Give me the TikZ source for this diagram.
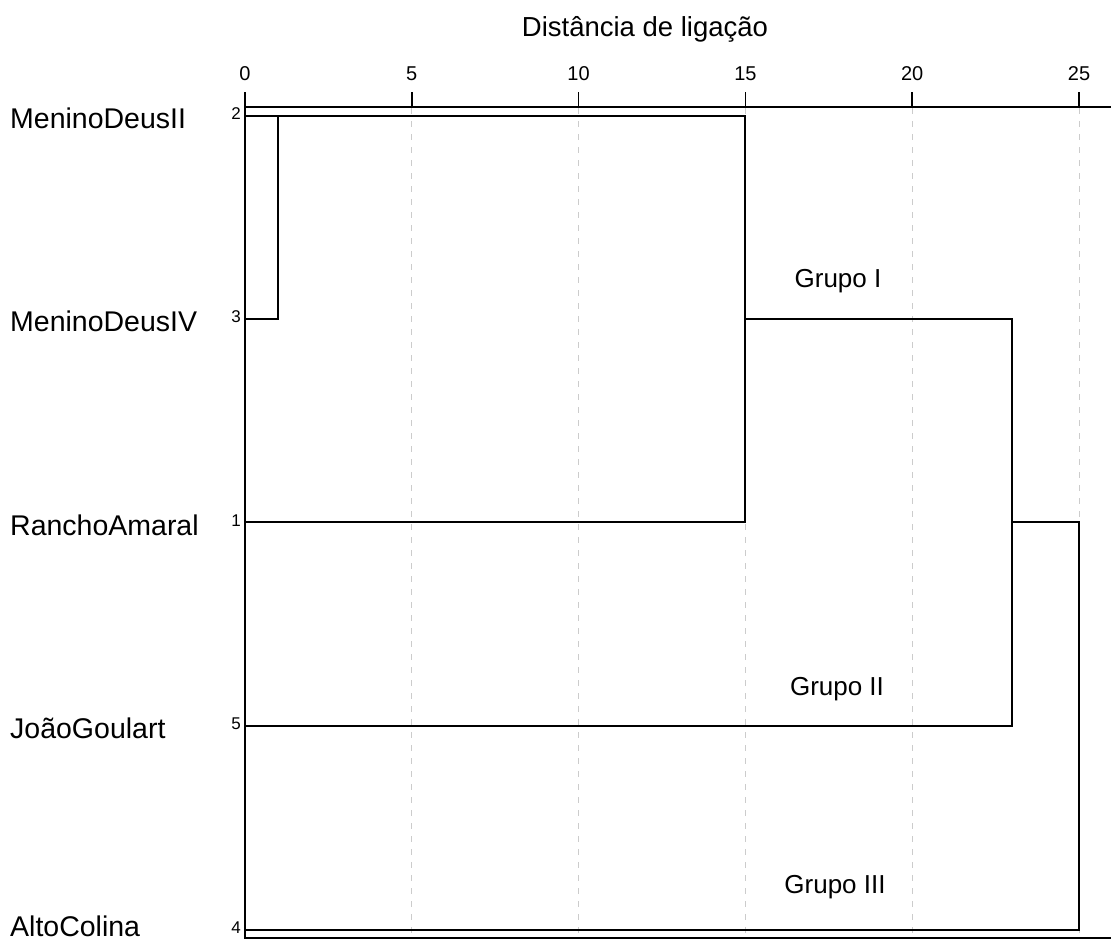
\documentclass[tikz,border=0pt]{standalone}
\usepackage{fontspec}
\setmainfont{Liberation Sans}
\usepackage{tikz}
\usetikzlibrary{positioning, calc}
\tikzset{
    leafname/.style={anchor=base west, inner sep=0pt, font=\fontsize{28.5}{32}\selectfont},
    leafnum/.style={anchor=base east, inner sep=0pt, font=\fontsize{17}{19}\selectfont},
    ticklbl/.style={anchor=base, inner sep=0pt, font=\fontsize{20}{23}\selectfont},
    grouplbl/.style={anchor=base, inner sep=0pt, font=\fontsize{26}{30}\selectfont},
    axisline/.style={line width=1.6pt, black},
    link/.style={line width=1.8pt, black},
    gridline/.style={line width=1pt, gray!40, dash pattern=on 6pt off 7pt}
}
\begin{document}
\begin{tikzpicture}[x=1pt, y=-1pt]
  \useasboundingbox (0,0) rectangle (1111,943);
  % escala: 0 -> 245, 25 -> 1079
  \node[anchor=base, inner sep=0pt, font=\fontsize{27.5}{31}\selectfont] (title) at (645,36) {Distância de ligação};
  \foreach \d in {5,10,...,25}
    \draw[gridline] ({245+33.36*\d},108) -- ({245+33.36*\d},937);
  \foreach \d in {0,5,...,25} {
    \draw[axisline] ({245+33.36*\d},92) -- ({245+33.36*\d},107);
    \node[ticklbl] (t\d) at ({245+33.36*\d},80) {\d};
  }
  \draw[axisline] (245,107) -- (1111,107);
  \draw[axisline] (245,92) -- (245,938) -- (1111,938);
  % folhas
  \coordinate (l2) at (245,116);
  \coordinate (l3) at (245,319);
  \coordinate (l1) at (245,522);
  \coordinate (l5) at (245,726);
  \coordinate (l4) at (245,930);
  \node[leafname] (n2) at (10,128) {MeninoDeusII};
  \node[leafname] (n3) at (10,331) {MeninoDeusIV};
  \node[leafname] (n1) at (10,535) {RanchoAmaral};
  \node[leafname] (n5) at (10,738) {JoãoGoulart};
  \node[leafname] (n4) at (10,936) {AltoColina};
  \node[leafnum] (k2) at (241,119) {2};
  \node[leafnum] (k3) at (241,322) {3};
  \node[leafnum] (k1) at (241,526) {1};
  \node[leafnum] (k5) at (241,729) {5};
  \node[leafnum] (k4) at (241,933) {4};
  % ligacoes
  \coordinate (m23) at (278,116);
  \coordinate (m231) at (745,116);
  \coordinate (m2315) at (1012,319);
  \coordinate (mall) at (1079,522);
  \draw[link] (l3) -| (m23) -- (l2);
  \draw[link] (m23) -- (m231) |- (l1);
  \draw[link] (745,319) -- (m2315) |- (l5);
  \draw[link] (1012,522) -- (mall) |- (l4);
  \node[grouplbl] (g1) at (838,287) {Grupo I};
  \node[grouplbl] (g2) at (837,695) {Grupo II};
  \node[grouplbl] (g3) at (835,893) {Grupo III};
\end{tikzpicture}
\end{document}
